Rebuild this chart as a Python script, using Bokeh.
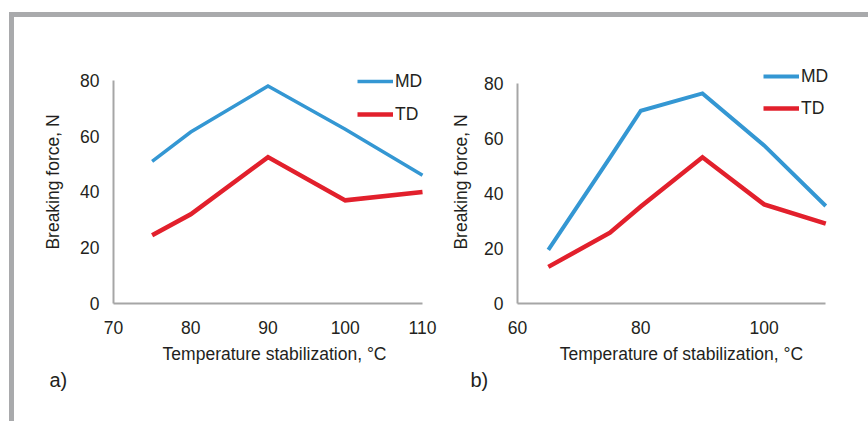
from bokeh.plotting import figure
from bokeh.models import Range1d, FixedTicker, Legend, LegendItem, Title, Spacer
from bokeh.layouts import row, column
from bokeh.embed import file_html
from bokeh.resources import INLINE

# ---- data ----
temp_a = [75, 80, 90, 100, 110]
md_a = [51, 61.5, 78, 62.5, 46]
td_a = [24.5, 32, 52.5, 37, 40]

temp_b = [65, 75, 80, 90, 100, 110]
md_b = [19.5, 53, 70, 76.3, 57.4, 35.4]
td_b = [13.3, 25.7, 35.2, 53.1, 36, 29]

xticks_a = [70, 80, 90, 100, 110]
xticks_b = [60, 80, 100]
yticks = [0, 20, 40, 60, 80]

series_names = ["MD", "TD"]
y_title = "Breaking force, N"
x_title_a = "Temperature  stabilization, °C"
x_title_b = "Temperature of stabilization, °C"

FONT = "Liberation Sans"
FS = "17.5px"
TXT = "#231F20"
BLUE = "#3497D3"
RED = "#E2202C"
AXIS = "#A6A6A6"
FRAME_GRAY = "#A9AAAC"
H = 404


def bar(w, h):
    return Spacer(width=w, height=h, styles={"background-color": FRAME_GRAY})


def panel(x, md, td, xr, xbounds, yr_end, xticks, width, bl, br, bt, bb, md_w, td_w,
          leg_xy, spacing, ytitle_standoff, xtitle, tag, tag_offset):
    p = figure(width=width, height=H, output_backend="svg", toolbar_location=None,
               x_range=Range1d(*xr), y_range=Range1d(0, yr_end),
               min_border_left=bl, min_border_right=br,
               min_border_top=bt, min_border_bottom=bb)
    p.outline_line_color = None
    p.xgrid.visible = False
    p.ygrid.visible = False
    p.xaxis.ticker = FixedTicker(ticks=xticks)
    p.yaxis.ticker = FixedTicker(ticks=yticks)
    p.xaxis.bounds = xbounds
    p.yaxis.bounds = (0, 80)
    for ax in (p.xaxis[0], p.yaxis[0]):
        ax.axis_line_color = AXIS
        ax.axis_line_width = 2
        ax.major_tick_line_color = None
        ax.minor_tick_line_color = None
        ax.major_tick_out = 0
        ax.major_tick_in = 0
        ax.major_label_text_font = FONT
        ax.major_label_text_font_size = FS
        ax.major_label_text_color = TXT
        ax.axis_label_text_font = FONT
        ax.axis_label_text_font_size = FS
        ax.axis_label_text_font_style = "normal"
        ax.axis_label_text_color = TXT
    p.xaxis.major_label_standoff = 17
    p.yaxis.major_label_standoff = 14
    p.yaxis.axis_label = y_title
    p.yaxis.axis_label_standoff = ytitle_standoff
    p.xaxis.axis_label = xtitle
    p.xaxis.axis_label_standoff = 7

    r1 = p.line(x, md, line_color=BLUE, line_width=md_w, line_join="miter")
    r2 = p.line(x, td, line_color=RED, line_width=td_w, line_join="miter")

    leg = Legend(items=[LegendItem(label=series_names[0], renderers=[r1]),
                        LegendItem(label=series_names[1], renderers=[r2])],
                 location=leg_xy, glyph_width=36, glyph_height=24, label_height=24,
                 label_standoff=2, spacing=spacing, padding=0, margin=0,
                 border_line_color=None, background_fill_alpha=0,
                 label_text_font=FONT, label_text_font_size=FS,
                 label_text_color=TXT)
    p.add_layout(leg)

    p.add_layout(Title(text=tag, align="left", offset=tag_offset, standoff=0,
                       text_font=FONT, text_font_size="20px", text_font_style="normal",
                       text_color=TXT), "below")
    return p


# panel a: figure x 14..440, frame x 113..440, frame y 60..303
pa = panel(temp_a, md_a, td_a, (70, 112.33), (70, 110), 87.17, xticks_a, 426,
           99, 0, 43, 118, 3.5, 4.5, (244, 177), 9, 14, x_title_a, "a)", -64)
# panel b: figure x 440..868, frame x 517..845, frame y 60..303
pb = panel(temp_b, md_b, td_b, (60, 113.2), (60, 110), 88.24, xticks_b, 428,
           77, 23, 43, 118, 4, 4.5, (246, 183), 8, 10, x_title_b, "b)", -47)

layout = row(Spacer(width=9, height=H + 17),
             column(Spacer(width=859, height=12),
                    bar(859, 5),
                    row(bar(5, H), pa, pb)))

open("out.html", "w").write(file_html(layout, INLINE))
